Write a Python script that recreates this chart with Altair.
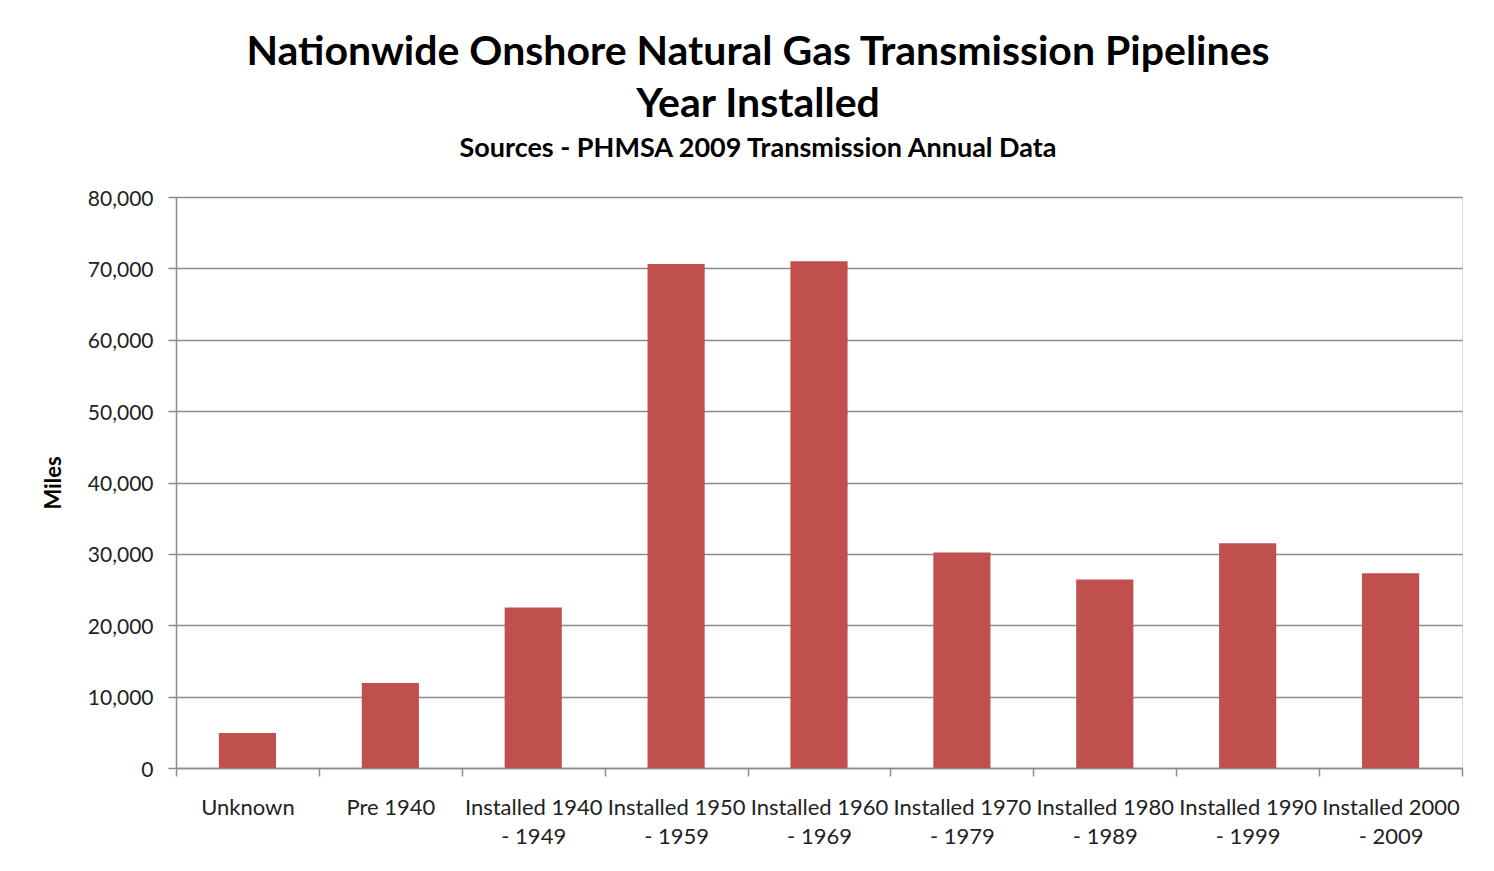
import altair as alt
import pandas as pd

categories = [
    "Unknown",
    "Pre 1940",
    "Installed 1940|- 1949",
    "Installed 1950|- 1959",
    "Installed 1960|- 1969",
    "Installed 1970|- 1979",
    "Installed 1980|- 1989",
    "Installed 1990|- 1999",
    "Installed 2000|- 2009",
]
miles = [4900, 11900, 22500, 70600, 71000, 30200, 26400, 31500, 27300]

y_ticks = [0, 10000, 20000, 30000, 40000, 50000, 60000, 70000, 80000]

df = pd.DataFrame({"category": categories, "miles": miles})

FONT = "Lato"
GRAY = "#8c8c8c"

bars = alt.Chart(df).mark_bar(color="#C0504D", width=alt.RelativeBandSize(0.4)).encode(
    x=alt.X(
        "category:N",
        sort=categories,
        scale=alt.Scale(paddingInner=0, paddingOuter=0),
        axis=alt.Axis(
            title=None,
            labelExpr="split(datum.label, '|')",
            labelAngle=0,
            labelFont=FONT,
            labelFontSize=22,
            labelColor="#222222",
            labelLineHeight=29,
            labelPadding=21,
            labelOverlap=False,
            labelBound=False,
            tickBand="extent",
            tickSize=8,
            tickColor=GRAY,
            tickWidth=1.5,
            domainColor=GRAY,
            domainWidth=1.5,
            grid=False,
        ),
    ),
    y=alt.Y(
        "miles:Q",
        scale=alt.Scale(domain=[0, 80000], nice=False),
        axis=alt.Axis(
            title="Miles",
            values=y_ticks,
            format=",.0f",
            labelFont=FONT,
            labelFontSize=21,
            labelColor="#222222",
            labelPadding=15,
            labelOffset=2,
            tickSize=8,
            tickColor=GRAY,
            tickWidth=1.5,
            domainColor=GRAY,
            domainWidth=1.5,
            gridColor=GRAY,
            gridWidth=1.5,
            titleFont=FONT,
            titleFontSize=22,
            titleFontWeight="bold",
            titleColor="#000000",
            titlePadding=22,
        ),
    ),
)

chart = bars.properties(
    width=1286,
    height=571,
    title=alt.TitleParams(
        text=["Nationwide Onshore Natural Gas Transmission Pipelines", "Year Installed"],
        subtitle="Sources - PHMSA 2009 Transmission Annual Data",
        font=FONT,
        fontSize=41,
        fontWeight="bold",
        lineHeight=52,
        color="#000000",
        subtitleFont=FONT,
        subtitleFontSize=27,
        subtitleFontWeight="bold",
        subtitleColor="#000000",
        subtitlePadding=10,
        anchor="middle",
        dx=-61,
        offset=25,
    ),
    autosize=alt.AutoSizeParams(type="none"),
    padding={"left": 168, "top": 189, "right": 24, "bottom": 90},
).configure_view(stroke=None).configure(background="white")

chart.save("out.html", embed_options={"renderer": "svg", "actions": False})
